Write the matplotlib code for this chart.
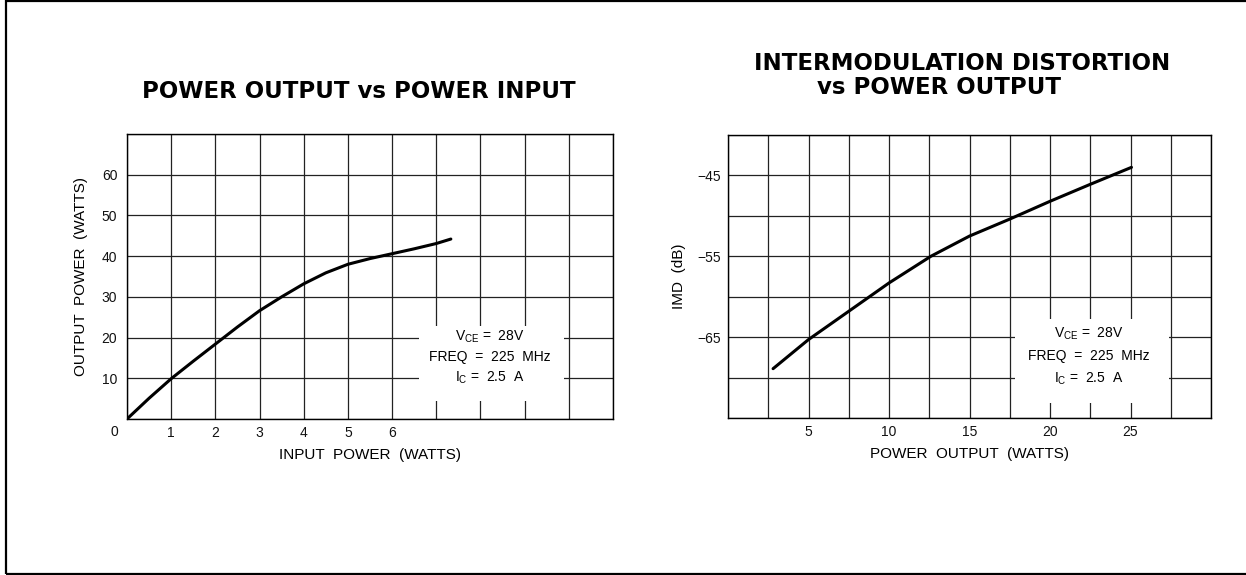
import matplotlib
matplotlib.use("Agg")
import matplotlib.pyplot as plt
from matplotlib.patches import Rectangle
import numpy as np

plt.rcParams['font.family'] = ['Liberation Sans', 'DejaVu Sans']
plt.rcParams['mathtext.fontset'] = 'custom'
plt.rcParams['mathtext.rm'] = 'Liberation Sans'

# ---- Data: power output vs power input ----
pin_watts = [0, 0.5, 1, 1.5, 2, 2.5, 3, 3.5, 4, 4.5, 5, 5.5, 6, 6.5, 7, 7.33]
pout_watts = [0, 5.1, 9.9, 14.2, 18.4, 22.6, 26.6, 30, 33.2, 35.9, 38.0, 39.4, 40.6, 41.8, 43.1, 44.2]
left_xtick_labels = ['1', '2', '3', '4', '5', '6']
left_ytick_labels = ['10', '20', '30', '40', '50', '60']

# ---- Data: IMD vs power output ----
po_watts = [2.8, 5, 7.5, 10, 12.6, 15, 17.5, 20, 22.5, 25.06]
imd_db = [-68.9, -65.3, -61.8, -58.3, -55, -52.5, -50.4, -48.2, -46.1, -44.0]
right_xtick_labels = ['5', '10', '15', '20', '25']
right_ytick_labels = ['\u221245', '\u221255', '\u221265']

fig = plt.figure(figsize=(12.46, 5.75), dpi=100)
W, H = 1246, 575

def axes_px(x0, y0, x1, y1):
    return fig.add_axes([x0 / W, 1 - y1 / H, (x1 - x0) / W, (y1 - y0) / H])

grid_kw = dict(color='#222222', linewidth=0.9)

# ---------- Left chart ----------
ax1 = axes_px(127, 134, 613, 419)
ax1.set_xlim(0, 11)
ax1.set_ylim(0, 70)
ax1.set_xticks(np.arange(0, 12, 1))
ax1.set_xticklabels([''] + left_xtick_labels + [''] * 5)
ax1.set_yticks(np.arange(0, 80, 10))
ax1.set_yticklabels([''] + left_ytick_labels + [''])
ax1.set_axisbelow(True)
ax1.grid(True, **grid_kw)
ax1.tick_params(length=0, labelsize=10, colors='#111111')
ax1.tick_params(axis='x', pad=5)
ax1.tick_params(axis='y', pad=7)
ax1.add_patch(Rectangle((6.6, 4.5), 3.3, 18.3, facecolor='white', edgecolor='none', zorder=1))
ax1.plot(pin_watts, pout_watts, color='black', linewidth=2.2, zorder=3,
         solid_joinstyle='round', solid_capstyle='round')
ax1.annotate('0', xy=(0, 0), xycoords='axes fraction', xytext=(-9, -9.5),
             textcoords='offset points', ha='center', va='center', fontsize=10, color='#111111')
ax1.set_xlabel('INPUT  POWER  (WATTS)', fontsize=11, labelpad=6)
ax1.set_ylabel('OUTPUT  POWER  (WATTS)', fontsize=11, labelpad=10)
for s in ax1.spines.values():
    s.set_linewidth(1.0)
fig.text(490 / W, 1 - 337 / H, 'V$_{\\mathregular{CE}}$ =  28V', fontsize=10, ha='center', va='center', zorder=4)
fig.text(490 / W, 1 - 357 / H, 'FREQ  =  225  MHz', fontsize=10, ha='center', va='center', zorder=4)
fig.text(490 / W, 1 - 378 / H, 'I$_{\\mathregular{C}}$ =  2.5  A', fontsize=10, ha='center', va='center', zorder=4)

# ---------- Right chart ----------
ax2 = axes_px(728, 135, 1211, 418)
ax2.set_xlim(0, 30)
ax2.set_ylim(-75, -40)
xt = np.arange(0, 30.01, 2.5)
ax2.set_xticks(xt)
xl = []
lab_iter = iter(right_xtick_labels)
for v in xt:
    if v in (5, 10, 15, 20, 25):
        xl.append(next(lab_iter))
    else:
        xl.append('')
ax2.set_xticklabels(xl)
yt = np.arange(-75, -39, 5)
ax2.set_yticks(yt)
ylmap = {-45: right_ytick_labels[0], -55: right_ytick_labels[1], -65: right_ytick_labels[2]}
ax2.set_yticklabels([ylmap.get(int(v), '') for v in yt])
ax2.set_axisbelow(True)
ax2.grid(True, **grid_kw)
ax2.tick_params(length=0, labelsize=10, colors='#111111')
ax2.tick_params(axis='x', pad=5)
ax2.tick_params(axis='y', pad=5)
ax2.add_patch(Rectangle((17.8, -73.2), 9.6, 10.4, facecolor='white', edgecolor='none', zorder=1))
ax2.plot(po_watts, imd_db, color='black', linewidth=2.2, zorder=3,
         solid_joinstyle='round', solid_capstyle='round')
ax2.set_xlabel('POWER  OUTPUT  (WATTS)', fontsize=11, labelpad=6)
ax2.set_ylabel('IMD  (dB)', fontsize=11, labelpad=8)
for s in ax2.spines.values():
    s.set_linewidth(1.0)
fig.text(1089 / W, 1 - 334 / H, 'V$_{\\mathregular{CE}}$ =  28V', fontsize=10, ha='center', va='center', zorder=4)
fig.text(1089 / W, 1 - 356 / H, 'FREQ  =  225  MHz', fontsize=10, ha='center', va='center', zorder=4)
fig.text(1089 / W, 1 - 379 / H, 'I$_{\\mathregular{C}}$ =  2.5  A', fontsize=10, ha='center', va='center', zorder=4)

# ---------- Titles ----------
title_kw = dict(fontsize=16.5, fontweight='bold', ha='center', va='center', family='DejaVu Sans')
fig.text(359 / W, 1 - 91 / H, 'POWER OUTPUT vs POWER INPUT', **title_kw)
fig.text(962 / W, 1 - 64 / H, 'INTERMODULATION DISTORTION', **title_kw)
fig.text(939 / W, 1 - 87 / H, 'vs POWER OUTPUT', **title_kw)

# ---------- Outer border ----------
fig.add_artist(Rectangle((6 / W, 1 / H), 1.0, 1 - 2 / H, transform=fig.transFigure,
                         fill=False, edgecolor='black', linewidth=1.6, clip_on=False))

fig.savefig('out.png', dpi=100, facecolor='white')
